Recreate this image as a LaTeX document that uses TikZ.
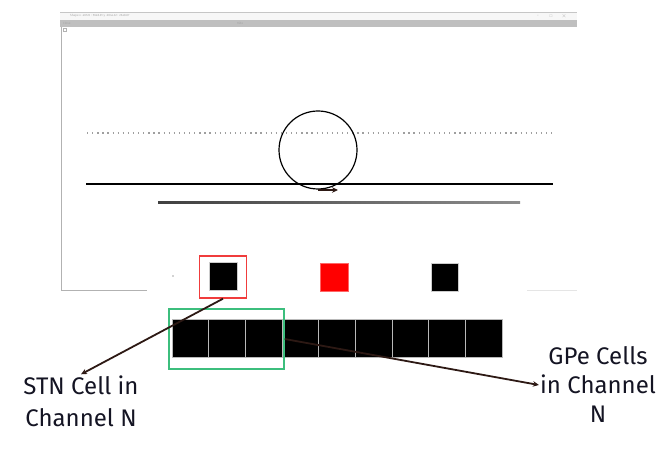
\documentclass[tikz,border=0pt]{standalone}
\usepackage{amssymb}
\usepackage{fontspec}
\setmainfont{Fira Sans}
\usepackage{xcolor}
\usetikzlibrary{positioning,arrows.meta,fit}

\definecolor{boxred}{RGB}{240,60,60}
\definecolor{boxgreen}{RGB}{60,190,125}
\definecolor{arrbrown}{RGB}{45,25,20}
\definecolor{txtnavy}{RGB}{20,20,35}

\begin{document}
\begin{tikzpicture}[x=1pt,y=-1pt,
    cell/.style={draw=gray!55, line width=0.6pt, fill=black,
                 minimum width=36.6pt, minimum height=38pt, inner sep=0pt},
    unit/.style={draw=gray!40, line width=0.4pt, fill=black,
                 minimum size=28pt, inner sep=0pt},
    hilite/.style={draw=boxred, line width=1.4pt},
    chanbox/.style={draw=boxgreen, line width=1.4pt, inner sep=0pt},
    label/.style={font=\fontsize{24}{32}\selectfont, text=txtnavy,
                  align=center, inner sep=1pt},
    arrow/.style={-{Stealth[length=6pt,width=5.5pt]}, line width=1.8pt, arrbrown},
    tiny/.style={font=\fontsize{3}{3}\selectfont, text=gray!70, inner sep=0pt}
]
\useasboundingbox (0,0) rectangle (662,470);

% window frame of the screenshot
\fill[gray!6] (60,12) rectangle (577,20);
\draw[gray!45, line width=0.5pt] (60,12) -- (577,12);
\fill[gray!50] (60,20) rectangle (577,27);
\node[tiny, anchor=west] (wtitle) at (70,16) {Shape x -46723 : 5648.01 y -2044.32 : 2648.07};
\node[tiny, anchor=west] (wclose) at (63,23.5) {Close};
\node[tiny] (whide) at (240,23.5) {Hide};
\node[tiny] (wmin) at (538,16) {--};
\node[tiny] (wmax) at (551,16) {$\square$};
\node[tiny] (wx) at (564,16) {$\times$};
\draw[gray!60, line width=0.4pt] (63,28) rectangle (66,31);
\draw[gray!60, line width=1pt] (61,27) -- (61,291) -- (147,291);
\draw[gray!20, line width=1pt] (527,291) -- (577,291);

% dotted and solid tracks with the circle
\draw[gray!75, line width=1.4pt, dash pattern=on 1.3pt off 3.8pt] (87,133) -- (552,133);
\node[draw, circle, line width=1.2pt, minimum size=78pt, inner sep=0pt] (ring) at (318,150) {};
\draw[black, line width=1.8pt] (86,184) -- (553,184);
\coordinate (spinA) at (318,190);
\coordinate (spinB) at (338,190);
\draw[arrow, line width=2.2pt] (spinA) -- (spinB);
\shade[left color=black!75, right color=black!45] (158,201.8) rectangle (520,203.4);

% cells of the upper row
\node[unit] (stn1) at (223,276) {};
\node[unit, fill=red, draw=red!60] (stn2) at (334,277) {};
\node[unit, minimum size=27.5pt] (stn3) at (444.5,277) {};
\fill[gray!70] (173,276) circle (0.8);
\node[hilite, fit=(stn1), inner sep=0pt, minimum width=47pt, minimum height=42pt,
      yshift=-1pt] (stnbox) {};

% lower row of cells
\foreach \i in {0,...,8}
  \node[cell] (gpe\i) at (190.3+36.65*\i,338) {};
\node[chanbox, minimum width=115pt, minimum height=60pt] (gpebox) at (226.5,339) {};

% labels
\node[label] (stnlabel) at (81,401) {STN Cell in\\Channel N};
\node[label, font=\fontsize{24}{29}\selectfont] (gpelabel) at (598,385)
  {GPe Cells\\in Channel\\N};

\draw[arrow] (stnbox.south) -- (stnlabel.north);
\draw[arrow] (gpebox.east) -- (gpelabel.west);

\end{tikzpicture}
\end{document}
